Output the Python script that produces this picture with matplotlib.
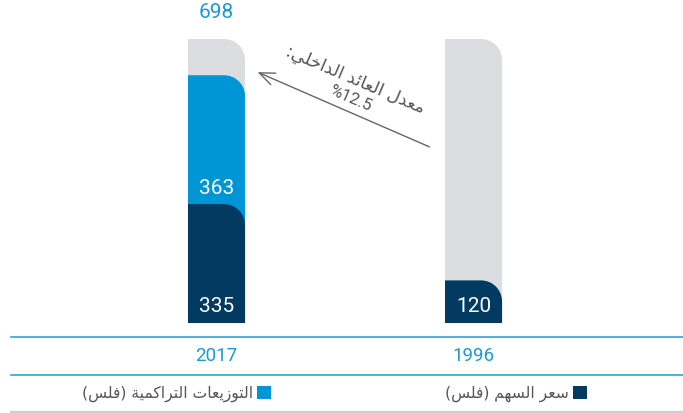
import matplotlib
matplotlib.use("Agg")
import matplotlib.pyplot as plt
from matplotlib.path import Path
from matplotlib.patches import PathPatch, Rectangle
from matplotlib.transforms import blended_transform_factory

# ---------------- data ----------------
years = ["2017", "1996"]
share_price = [335, 120]          # سعر السهم (فلس)
cum_dividends = [363, 0]          # التوزيعات التراكمية (فلس)
totals = [698, None]
background = [800, 800]
legend_labels = ["التوزيعات التراكمية (فلس)", "سعر السهم (فلس)"]
irr_title = "معدل العائد الداخلي:"
irr_value = "%12.5"

NAVY = "#023a62"
BLUE = "#0096d6"
GRAY = "#dcdde0"
YEAR_BLUE = "#1a9ad6"
TEXT_GRAY = "#555555"

# ---------------- minimal Arabic shaping ----------------
FORMS = {  # isolated, final, initial, medial
    "\u0626": ("\uFE89", "\uFE8A", "\uFE8B", "\uFE8C"),
    "\u0627": ("\uFE8D", "\uFE8E", None, None),
    "\u0629": ("\uFE93", "\uFE94", None, None),
    "\u062A": ("\uFE95", "\uFE96", "\uFE97", "\uFE98"),
    "\u062E": ("\uFEA5", "\uFEA6", "\uFEA7", "\uFEA8"),
    "\u062F": ("\uFEA9", "\uFEAA", None, None),
    "\u0631": ("\uFEAD", "\uFEAE", None, None),
    "\u0632": ("\uFEAF", "\uFEB0", None, None),
    "\u0633": ("\uFEB1", "\uFEB2", "\uFEB3", "\uFEB4"),
    "\u0639": ("\uFEC9", "\uFECA", "\uFECB", "\uFECC"),
    "\u0641": ("\uFED1", "\uFED2", "\uFED3", "\uFED4"),
    "\u0643": ("\uFED9", "\uFEDA", "\uFEDB", "\uFEDC"),
    "\u0644": ("\uFEDD", "\uFEDE", "\uFEDF", "\uFEE0"),
    "\u0645": ("\uFEE1", "\uFEE2", "\uFEE3", "\uFEE4"),
    "\u0647": ("\uFEE9", "\uFEEA", "\uFEEB", "\uFEEC"),
    "\u0648": ("\uFEED", "\uFEEE", None, None),
    "\u064A": ("\uFEF1", "\uFEF2", "\uFEF3", "\uFEF4"),
}
MIRROR = {"(": ")", ")": "("}


def shape(s):
    out = []
    for i, c in enumerate(s):
        if c not in FORMS:
            out.append(MIRROR.get(c, c))
            continue
        prev = s[i - 1] if i > 0 else ""
        nxt = s[i + 1] if i + 1 < len(s) else ""
        jp = prev in FORMS and FORMS[prev][2] is not None
        jn = nxt in FORMS and FORMS[c][2] is not None
        iso, fin, ini, med = FORMS[c]
        if jp and jn:
            out.append(med)
        elif jp:
            out.append(fin)
        elif jn:
            out.append(ini)
        else:
            out.append(iso)
    return "".join(reversed(out))


AR_FONT = ["DejaVu Sans"]
NUM_FONT = ["Roboto", "DejaVu Sans"]

# ---------------- figure ----------------
W, H = 683, 414
fig = plt.figure(figsize=(W / 100, H / 100), dpi=100)
bottom_px = 324
px_per_unit = 0.355
ymax = 900
ax = fig.add_axes([0, (H - bottom_px) / H, 1, ymax * px_per_unit / H])
ax.set_ylim(0, ymax)
ax.set_xlim(-0.8424, 1.815)
ax.axis("off")

xs = list(range(len(years)))
bw = 0.222


def rounded_bar(x, bottom, top, color, r_px=21, z=1):
    if top <= bottom:
        return
    (px0, py0) = ax.transData.transform((0, 0))
    (px1, py1) = ax.transData.transform((1, 1))
    rx = r_px / (px1 - px0)
    ry = min(r_px / (py1 - py0), top - bottom)
    x0, x1 = x - bw / 2, x + bw / 2
    k = 0.5523
    verts = [(x0, bottom), (x1, bottom), (x1, top - ry),
             (x1, top - ry + k * ry), (x1 - rx + k * rx, top), (x1 - rx, top),
             (x0, top), (x0, bottom)]
    codes = [Path.MOVETO, Path.LINETO, Path.LINETO,
             Path.CURVE4, Path.CURVE4, Path.CURVE4,
             Path.LINETO, Path.CLOSEPOLY]
    ax.add_patch(PathPatch(Path(verts, codes), facecolor=color,
                           edgecolor="none", zorder=z))


for x, bg, sp, cd in zip(xs, background, share_price, cum_dividends):
    rounded_bar(x, 0, bg, GRAY, z=1)
    if cd:
        rounded_bar(x, 0, sp + cd, BLUE, z=2)
    rounded_bar(x, 0, sp, NAVY, z=3)

# value labels
for x, bg, sp, cd, tot in zip(xs, background, share_price, cum_dividends, totals):
    ax.annotate(str(sp), (x, 0), xytext=(0, 17), textcoords="offset pixels",
                ha="center", va="center", color="white", fontsize=15,
                family=NUM_FONT, zorder=5)
    if cd:
        ax.annotate(str(cd), (x, sp), xytext=(0, 17), textcoords="offset pixels",
                    ha="center", va="center", color="white", fontsize=15,
                    family=NUM_FONT, zorder=5)
    if tot:
        ax.annotate(str(tot), (x, bg), xytext=(0, 28), textcoords="offset pixels",
                    ha="center", va="center", color=YEAR_BLUE, fontsize=15,
                    family=NUM_FONT, zorder=5, annotation_clip=False)

# separator lines
def fy(py):
    return (H - py) / H

fig.add_artist(plt.Line2D([11 / W, 1], [fy(338), fy(338)], color="#2aa4dc", lw=1.2))
fig.add_artist(plt.Line2D([11 / W, 1], [fy(375.5), fy(375.5)], color="#2aa4dc", lw=1.2))
fig.add_artist(plt.Line2D([11 / W, 1], [fy(412.5), fy(412.5)], color="#cfcfcf", lw=1.6))

# year labels
bt = blended_transform_factory(ax.transData, fig.transFigure)
for x, yr in zip(xs, years):
    fig.text(x, fy(356), yr, transform=bt, ha="center", va="center",
             color=YEAR_BLUE, fontsize=13.5, family=NUM_FONT)

# legend
leg_colors = [BLUE, NAVY]
sq_px = [(257, 387), (573, 387)]
for (sx, sy), col, lab in zip(sq_px, leg_colors, legend_labels):
    fig.add_artist(Rectangle((sx / W, fy(sy + 13)), 14 / W, 13 / H,
                             transform=fig.transFigure, facecolor=col,
                             edgecolor="none"))
    fig.text((sx - 4) / W, fy(394), shape(lab), ha="right", va="center",
             color=TEXT_GRAY, fontsize=11.2, family=AR_FONT)

# IRR arrow and text
ax.annotate("", xy=(255, H - 72), xycoords="figure pixels",
            xytext=(432, H - 149), textcoords="figure pixels",
            arrowprops=dict(arrowstyle="->,head_length=1.1,head_width=0.45",
                            color="#666666", lw=1.0), annotation_clip=False)
fig.text(355 / W, fy(80), shape(irr_title), rotation=-23, rotation_mode="anchor",
         ha="center", va="center", color=TEXT_GRAY, fontsize=12.5, family=AR_FONT)
fig.text(350 / W, fy(99), irr_value, rotation=-23, rotation_mode="anchor",
         ha="center", va="center", color=TEXT_GRAY, fontsize=12, family=NUM_FONT)

fig.savefig("out.png", dpi=100)
